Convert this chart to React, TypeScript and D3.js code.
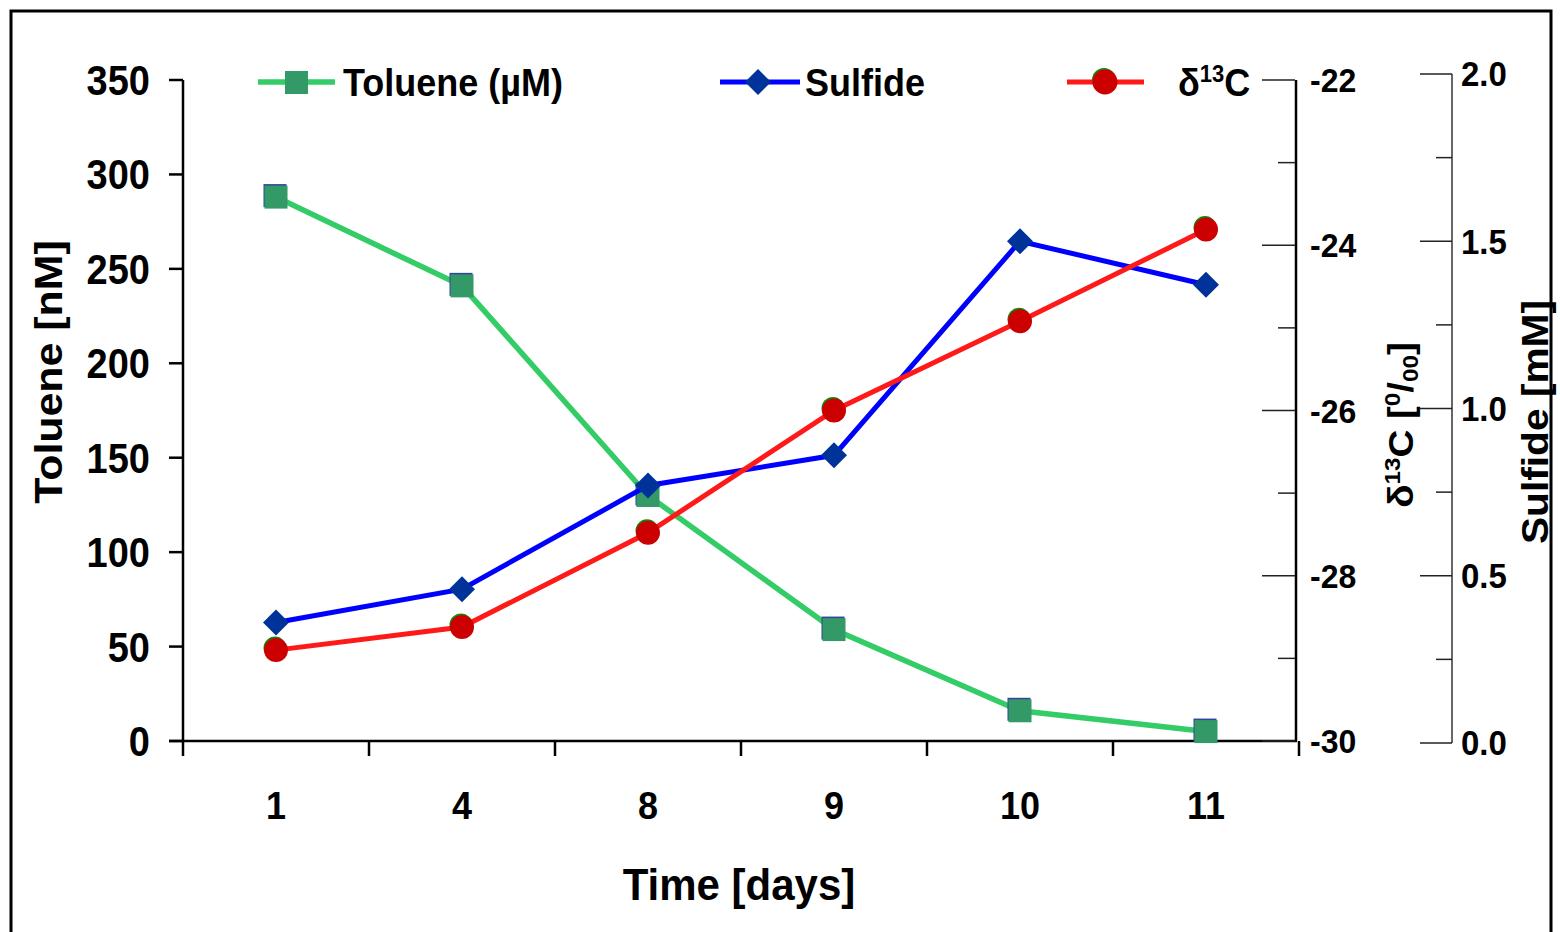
import * as d3 from "d3";
import { useEffect } from "react";

// values
const days = ["1", "4", "8", "9", "10", "11"];
const toluene = [288, 241, 130, 59, 16, 5];
const sulfide = [0.36, 0.46, 0.77, 0.86, 1.5, 1.37];
const delta13C = [-28.9, -28.62, -27.48, -26.0, -24.92, -23.81];

const tolueneTicks = [0, 50, 100, 150, 200, 250, 300, 350];
const deltaTicks = [-30, -29, -28, -27, -26, -25, -24, -23, -22];
const sulfideTicks = [0, 0.25, 0.5, 0.75, 1, 1.25, 1.5, 1.75, 2];

const FONT = "'Liberation Sans', Arial, Helvetica, sans-serif";
const GREEN_LINE = "#33CC66";
const GREEN_MARK = "#339966";
const BLUE_LINE = "#0000FF";
const BLUE_MARK = "#003399";
const RED_LINE = "#FF1A1A";
const RED_MARK = "#CC0000";

// text helper, the original is a bit taller than wide
function Label({ x, y, size, anchor = "middle", rotate = false, sy = 1.1, children }) {
    const tf = `translate(${x},${y}) scale(1,${sy})${rotate ? " rotate(-90)" : ""}`;
    return (
        <text
            transform={tf}
            fontFamily={FONT}
            fontWeight="bold"
            fontSize={size}
            textAnchor={anchor}
            dy="0.36em"
            fill="#000"
        >
            {children}
        </text>
    );
}

function Diamond({ cx, cy, r, fill }) {
    return (
        <path
            d={`M${cx},${cy - r} L${cx + r},${cy} L${cx},${cy + r} L${cx - r},${cy} Z`}
            fill={fill}
        />
    );
}

export default function App() {
    useEffect(() => {
        document.body.style.margin = "0";
    }, []);

    const x = d3.scaleBand().domain(days).range([183, 1299]);
    const yTol = d3.scaleLinear().domain([0, 350]).range([741, 80]);
    const yDel = d3.scaleLinear().domain([-30, -22]).range([741, 80]);
    const ySul = d3.scaleLinear().domain([0, 2]).range([743, 74]);
    const cx = (d) => x(d) + x.bandwidth() / 2;

    const lineTol = d3.line().x((d, i) => cx(days[i])).y((d) => yTol(d));
    const lineSul = d3.line().x((d, i) => cx(days[i])).y((d) => ySul(d));
    const lineDel = d3.line().x((d, i) => cx(days[i])).y((d) => yDel(d));

    const x1 = x.range()[1];
    const boundaries = days.map((d) => x(d)).concat([x1]);

    return (
        <svg width={1560} height={932} style={{ display: "block", background: "#fff" }}>
            {/* outer frame */}
            <rect x={11} y={11} width={1540} height={940} fill="none" stroke="#000" strokeWidth={3} />

            {/* left axis */}
            <line x1={183} x2={183} y1={yTol(350)} y2={yTol(0)} stroke="#000" strokeWidth={2.5} />
            {tolueneTicks.map((t) => (
                <g key={`lt-${t}`}>
                    <line x1={169} x2={183} y1={yTol(t)} y2={yTol(t)} stroke="#000" strokeWidth={2.5} />
                    <Label x={150} y={yTol(t)} size={38} anchor="end">{t}</Label>
                </g>
            ))}
            <Label x={48} y={372} size={39} rotate sy={1.1}>Toluene [nM]</Label>

            {/* x axis */}
            <line x1={169} x2={x1 - 2} y1={741} y2={741} stroke="#000" strokeWidth={2.5} />
            {boundaries.map((b, i) => (
                <line key={`xt-${i}`} x1={b} x2={b} y1={741} y2={756} stroke="#000" strokeWidth={2.5} />
            ))}
            {days.map((d) => (
                <Label key={`xl-${d}`} x={cx(d)} y={805} size={36}>{d}</Label>
            ))}
            <Label x={739} y={884} size={42} sy={1.06}>Time [days]</Label>

            {/* delta 13C axis */}
            <line x1={1296} x2={1296} y1={yDel(-22)} y2={yDel(-30)} stroke="#000" strokeWidth={2.5} />
            {deltaTicks.map((t) => {
                const major = t % 2 === 0;
                return (
                    <g key={`dt-${t}`}>
                        <line
                            x1={major ? 1262 : 1278}
                            x2={1295}
                            y1={yDel(t)}
                            y2={yDel(t)}
                            stroke="#222"
                            strokeWidth={1.5}
                        />
                        {major && (
                            <Label x={1310} y={yDel(t)} size={32} anchor="start" sy={1.05}>{t}</Label>
                        )}
                    </g>
                );
            })}
            <text
                transform="translate(1400,425) scale(1,1.1) rotate(-90)"
                fontFamily={FONT}
                fontWeight="bold"
                fontSize={35}
                textAnchor="middle"
                dy="0.36em"
            >
                <tspan>δ</tspan>
                <tspan fontSize={22} dy={-13}>13</tspan>
                <tspan dy={13}>C [</tspan>
                <tspan fontSize={22} dy={-13}>0</tspan>
                <tspan dy={13}>/</tspan>
                <tspan fontSize={22} dy={5}>00</tspan>
                <tspan dy={-5}>]</tspan>
            </text>

            {/* sulfide axis */}
            <line x1={1452} x2={1452} y1={ySul(2)} y2={ySul(0)} stroke="#333" strokeWidth={1.5} />
            {sulfideTicks.map((t) => {
                const major = Math.abs(t * 2 - Math.round(t * 2)) < 1e-9;
                return (
                    <g key={`st-${t}`}>
                        <line
                            x1={major ? 1420 : 1436}
                            x2={1452}
                            y1={ySul(t)}
                            y2={ySul(t)}
                            stroke="#222"
                            strokeWidth={1.5}
                        />
                        {major && (
                            <Label x={1461} y={ySul(t)} size={33} anchor="start" sy={1.05}>
                                {d3.format(".1f")(t)}
                            </Label>
                        )}
                    </g>
                );
            })}
            <Label x={1535} y={422} size={37} rotate sy={1.1}>Sulfide [mM]</Label>

            {/* toluene series */}
            <path d={lineTol(toluene)} fill="none" stroke={GREEN_LINE} strokeWidth={5.5} />
            {toluene.map((v, i) => (
                <g key={`tm-${i}`}>
                    <rect x={cx(days[i]) - 12.5} y={yTol(v) - 13} width={23} height={23} fill="#334499" />
                    <rect x={cx(days[i]) - 11.5} y={yTol(v) - 11.5} width={23} height={23} fill={GREEN_MARK} />
                </g>
            ))}

            {/* sulfide series */}
            <path d={lineSul(sulfide)} fill="none" stroke={BLUE_LINE} strokeWidth={5} />
            {sulfide.map((v, i) => (
                <Diamond key={`sm-${i}`} cx={cx(days[i])} cy={ySul(v)} r={13} fill={BLUE_MARK} />
            ))}

            {/* delta 13C series */}
            <path d={lineDel(delta13C)} fill="none" stroke={RED_LINE} strokeWidth={5} />
            {delta13C.map((v, i) => (
                <g key={`dm-${i}`}>
                    <circle cx={cx(days[i]) - 1} cy={yDel(v) - 2} r={11.5} fill="#118811" />
                    <circle cx={cx(days[i])} cy={yDel(v)} r={12} fill={RED_MARK} />
                </g>
            ))}

            {/* legend */}
            <g>
                <line x1={258} x2={335} y1={82} y2={82} stroke={GREEN_LINE} strokeWidth={5.5} />
                <rect x={285} y={71} width={23} height={23} fill={GREEN_MARK} />
                <Label x={343} y={82} size={36} anchor="start">Toluene (µM)</Label>

                <line x1={720} x2={800} y1={82} y2={82} stroke={BLUE_LINE} strokeWidth={5} />
                <Diamond cx={758} cy={82} r={13} fill={BLUE_MARK} />
                <Label x={805} y={82} size={36} anchor="start">Sulfide</Label>

                <line x1={1067} x2={1144} y1={82} y2={82} stroke={RED_LINE} strokeWidth={5} />
                <circle cx={1104} cy={80} r={12} fill="#118811" />
                <circle cx={1105} cy={82} r={12.5} fill={RED_MARK} />
                <text
                    transform="translate(1178,82) scale(1,1.1)"
                    fontFamily={FONT}
                    fontWeight="bold"
                    fontSize={36}
                    dy="0.36em"
                >
                    <tspan>δ</tspan>
                    <tspan fontSize={22} dy={-13}>13</tspan>
                    <tspan dy={13}>C</tspan>
                </text>
            </g>
        </svg>
    );
}
